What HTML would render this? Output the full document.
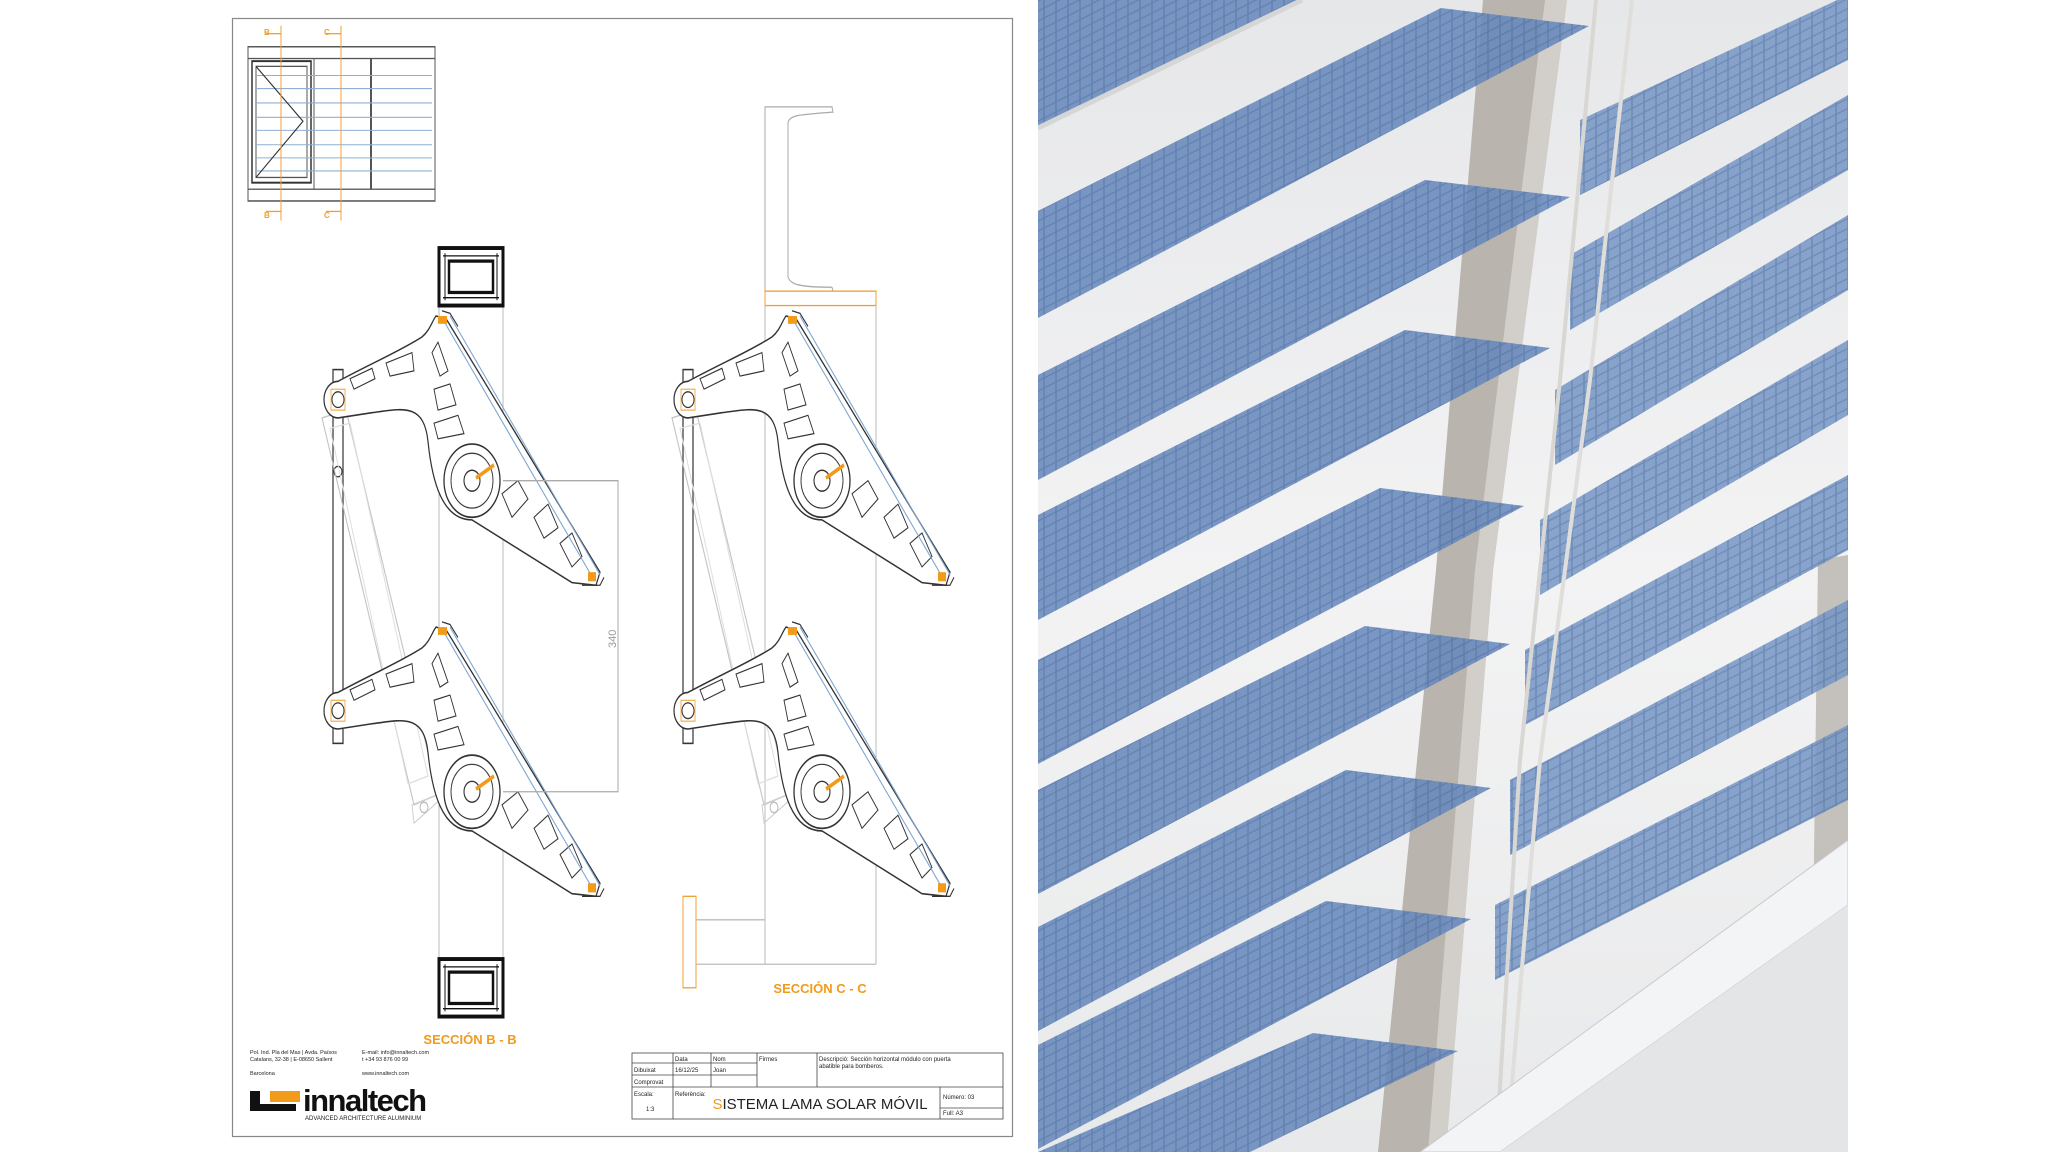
<!DOCTYPE html>
<html><head><meta charset="utf-8"><style>
html,body{margin:0;padding:0;background:#fff;}
body{width:2049px;height:1152px;position:relative;overflow:hidden;font-family:"Liberation Sans",sans-serif;}
svg{position:absolute;left:0;top:0;}
</style></head><body>
<svg width="2049" height="1152" viewBox="0 0 2049 1152">
<defs>
<g id="br">
 <path d="M -148,-62 A 14 14 0 0 1 -134,-76 C -100,-90 -70,-100 -50,-110 C -42,-115 -40,-122 -36,-126 L -26,-124 L 128,70 L 124,80 L 100,78 L 0,30 C -30,30 -40,0 -44,-30 C -48,-60 -70,-55 -100,-52 L -134,-48 A 14 14 0 0 1 -148,-62 Z" fill="#fff" stroke="#333" stroke-width="1.2"/>
 <circle cx="-134" cy="-62" r="6" fill="none" stroke="#333"/>
 <rect x="-141" y="-70" width="14" height="16" fill="none" stroke="#f0a030" stroke-width="0.8"/>
 <path d="M-122,-78 L-100,-86 L-97,-78 L-118,-70Z M-86,-90 L-60,-98 L-58,-84 L-82,-80Z M-40,-98 L-34,-106 L-24,-84 L-32,-80Z M-38,-70 L-22,-74 L-16,-58 L-34,-54Z M-38,-44 L-14,-50 L-8,-36 L-34,-32Z M30,10 L46,0 L56,14 L40,28Z M62,28 L76,18 L86,36 L72,44Z M88,48 L100,40 L110,58 L100,66Z" fill="none" stroke="#333" stroke-width="0.9"/>
 <circle cx="0" cy="0" r="28" fill="#fff" stroke="#333" stroke-width="1.3"/>
 <circle cx="0" cy="0" r="21" fill="none" stroke="#333" stroke-width="0.9"/>
 <circle cx="0" cy="0" r="8" fill="#fff" stroke="#333" stroke-width="1.1"/>
 <line x1="4" y1="-2" x2="22" y2="-12" stroke="#f29a1a" stroke-width="3"/>
 <line x1="-28" y1="-122" x2="122" y2="76" stroke="#7ea6cf" stroke-width="1"/>
 <line x1="-22" y1="-126" x2="128" y2="72" stroke="#7ea6cf" stroke-width="1"/>
 <rect x="-34" y="-126" width="9" height="6" fill="#f29a1a"/>
 <rect x="116" y="70" width="8" height="7" fill="#f29a1a"/>
 <path d="M-30,-130 L-22,-128 L-14,-118" fill="none" stroke="#333"/>
 <path d="M110,80 L128,80 L132,74" fill="none" stroke="#333"/>
</g>
<g id="act">
 <polygon points="-150,-48 -126,-54 -34,240 -58,248" fill="none" stroke="#c4c4c4" stroke-width="1.1"/>
 <polygon points="-142,-40 -122,-44 -44,226 -64,232" fill="none" stroke="#dedede" stroke-width="1"/>
 <polygon points="-60,248 -20,236 -58,262" fill="none" stroke="#d0d0d0"/>
 <circle cx="-48" cy="250" r="4" fill="none" stroke="#bbb"/>
</g>
<g id="sq">
 <rect x="0" y="0" width="64" height="44" fill="#fff" stroke="#111" stroke-width="3"/>
 <rect x="10" y="10" width="44" height="24" fill="none" stroke="#111" stroke-width="2.5"/>
 <path d="M4,6 H60 M4,38 H60 M6,4 V40 M58,4 V40" stroke="#111" stroke-width="1"/>
</g>
<linearGradient id="bg" x1="0" y1="0" x2="0" y2="1"><stop offset="0" stop-color="#e6e7e9"/><stop offset="0.5" stop-color="#f3f3f4"/><stop offset="1" stop-color="#e8e9ea"/></linearGradient>
<pattern id="grid" width="12" height="10" patternUnits="userSpaceOnUse" patternTransform="skewY(-27)">
 <rect width="12" height="10" fill="none" stroke="#35558a" stroke-opacity="0.3" stroke-width="1.5"/>
</pattern>
<g id="rpg">
<polygon points="1580,120 1848,-5 1848,60 1580,195"/>
<polygon points="1570,255 1848,95 1848,170 1570,330"/>
<polygon points="1555,390 1848,215 1848,290 1555,465"/>
<polygon points="1540,520 1848,340 1848,415 1540,595"/>
<polygon points="1525,650 1848,475 1848,550 1525,725"/>
<polygon points="1510,780 1848,600 1848,675 1510,855"/>
<polygon points="1495,905 1848,725 1848,800 1495,980"/>
</g>
<g id="lpg">
<polygon points="1038,0 1300,0 1038,126"/>
<polygon points="1441,8 1589,26 1038,318 1038,211"/>
<polygon points="1425,180 1570,197 1038,480 1038,375"/>
<polygon points="1405,330 1550,348 1038,620 1038,515"/>
<polygon points="1380,488 1524,506 1038,764 1038,660"/>
<polygon points="1365,626 1510,644 1038,894 1038,790"/>
<polygon points="1346,770 1491,788 1038,1031 1038,927"/>
<polygon points="1326,901 1471,919 1038,1149 1038,1045"/>
<polygon points="1313,1033 1458,1051 1250,1152 1038,1152"/>
</g>
</defs>

<!-- sheet -->
<rect x="232.5" y="18.5" width="780" height="1118" fill="#fff" stroke="#888" stroke-width="1.2"/>

<g transform="translate(0,18) scale(1,1.307) translate(0,-18)">
<rect x="248" y="40" width="187" height="118" fill="#fff" stroke="#555" stroke-width="1"/>
<rect x="248" y="40" width="187" height="9" fill="none" stroke="#555"/>
<rect x="248" y="149" width="187" height="9" fill="none" stroke="#555"/>
<rect x="252" y="51" width="59" height="93" fill="none" stroke="#333" stroke-width="1.5"/>
<rect x="256" y="55" width="51" height="85" fill="none" stroke="#555"/>
<line x1="314" y1="49" x2="314" y2="149" stroke="#555"/>
<line x1="371" y1="49" x2="371" y2="149" stroke="#555" stroke-width="2"/>
<g stroke="#8fb0d4" stroke-width="0.8">
<line x1="256" y1="62" x2="432" y2="62"/><line x1="256" y1="72" x2="432" y2="72"/><line x1="256" y1="83" x2="432" y2="83"/><line x1="256" y1="94" x2="432" y2="94"/><line x1="256" y1="104" x2="432" y2="104"/><line x1="256" y1="115" x2="432" y2="115"/><line x1="256" y1="125" x2="432" y2="125"/><line x1="256" y1="135" x2="432" y2="135"/>
</g>
<polyline points="256,55 303,97 256,140" fill="none" stroke="#333"/>
<g stroke="#f0a030" stroke-width="1"><line x1="281" y1="24" x2="281" y2="173"/><line x1="341" y1="24" x2="341" y2="173"/>
<line x1="266" y1="30" x2="281" y2="30"/><line x1="326" y1="30" x2="341" y2="30"/><line x1="266" y1="166" x2="281" y2="166"/><line x1="326" y1="166" x2="341" y2="166"/></g>

<line x1="439" y1="238" x2="439" y2="738" stroke="#bbb"/>
<line x1="503" y1="238" x2="503" y2="738" stroke="#bbb"/>
<use href="#sq" x="439" y="194"/>
<use href="#sq" x="439" y="738"/>
<rect x="333" y="287" width="10" height="286" fill="none" stroke="#333" stroke-width="1.2"/>
<circle cx="338" cy="365" r="4" fill="none" stroke="#333"/>
<use href="#act" x="472" y="372"/>
<use href="#br" x="472" y="372"/>
<use href="#br" x="472" y="610"/>
<path d="M503,372 H618 V610 H503" fill="none" stroke="#aaa"/>

<path d="M765,238 V86 H832 L833,90 C800,92 790,92 788,98 V216 C790,222 800,224 832,224 L833,227" fill="none" stroke="#aaa"/>
<rect x="765" y="227" width="111" height="11" fill="none" stroke="#f0a030"/>
<line x1="765" y1="238" x2="765" y2="742" stroke="#bbb"/>
<line x1="876" y1="238" x2="876" y2="742" stroke="#bbb"/>
<line x1="765" y1="742" x2="876" y2="742" stroke="#bbb"/>
<rect x="683" y="690" width="13" height="70" fill="none" stroke="#f0a030"/>
<line x1="696" y1="708" x2="765" y2="708" stroke="#bbb"/>
<line x1="696" y1="742" x2="765" y2="742" stroke="#bbb"/>
<rect x="683" y="287" width="10" height="286" fill="none" stroke="#333" stroke-width="1.2"/>
<use href="#act" x="822" y="372"/>
<use href="#br" x="822" y="372"/>
<use href="#br" x="822" y="610"/>
</g>

<g fill="#f0a030" font-size="8" font-weight="bold"><text x="264" y="35">B</text><text x="324" y="35">C</text><text x="264" y="218">B</text><text x="324" y="218">C</text></g>
<text x="0" y="0" font-size="11" fill="#999" transform="translate(616,648) rotate(-90)">340</text>
<text x="470" y="1044" font-size="13" font-weight="bold" fill="#f29a1a" text-anchor="middle">SECCIÓN B - B</text>
<text x="820" y="993" font-size="13" font-weight="bold" fill="#f29a1a" text-anchor="middle">SECCIÓN C - C</text>

<g font-size="5.5" fill="#222">
<text x="250" y="1054">Pol. Ind. Pla del Mas | Avda. Països</text>
<text x="250" y="1061">Catalans, 32-38 | E-08650 Sallent</text>
<text x="250" y="1075">Barcelona</text>
<text x="362" y="1054">E-mail: info@innaltech.com</text>
<text x="362" y="1061">t +34 93 876 00 99</text>
<text x="362" y="1075">www.innaltech.com</text>
</g>
<rect x="250" y="1091" width="10" height="20" fill="#111"/>
<rect x="250" y="1104" width="46" height="7" fill="#111"/>
<rect x="270" y="1091" width="30" height="11" fill="#f29a1a"/>
<text x="303" y="1111" font-size="31" font-weight="bold" fill="#111" letter-spacing="-1.5">innaltech</text>
<text x="305" y="1120" font-size="6" fill="#222">ADVANCED ARCHITECTURE ALUMINIUM</text>

<g stroke="#444" stroke-width="0.8" fill="none">
<rect x="632" y="1053" width="371" height="66"/>
<line x1="673" y1="1053" x2="673" y2="1119"/>
<line x1="711" y1="1053" x2="711" y2="1087"/>
<line x1="757" y1="1053" x2="757" y2="1087"/>
<line x1="817" y1="1053" x2="817" y2="1087"/>
<line x1="632" y1="1063" x2="757" y2="1063"/>
<line x1="632" y1="1075" x2="757" y2="1075"/>
<line x1="632" y1="1087" x2="1003" y2="1087"/>
<line x1="940" y1="1087" x2="940" y2="1119"/>
<line x1="940" y1="1108" x2="1003" y2="1108"/>
</g>
<g font-size="6" fill="#222">
<text x="675" y="1061">Data</text><text x="713" y="1061">Nom</text><text x="759" y="1061">Firmes</text>
<text x="819" y="1061">Descripció: Sección horizontal módulo con puerta</text>
<text x="819" y="1068">abatible para bomberos.</text>
<text x="634" y="1072">Dibuixat</text><text x="675" y="1072">16/12/25</text><text x="713" y="1072">Joan</text>
<text x="634" y="1084">Comprovat</text>
<text x="634" y="1096">Escala:</text><text x="646" y="1111">1:3</text>
<text x="675" y="1096">Referència:</text>
<text x="943" y="1099">Número: 03</text>
<text x="943" y="1115">Full: A3</text>
</g>
<text x="820" y="1109" font-size="15" fill="#222" text-anchor="middle"><tspan fill="#f29a1a">S</tspan>ISTEMA LAMA SOLAR MÓVIL</text>

<!-- render image -->
<svg x="1038" y="0" width="810" height="1152" viewBox="1038 0 810 1152">
<rect x="1038" y="0" width="810" height="1152" fill="url(#bg)"/>
<polygon points="1818,560 1848,555 1848,1152 1810,1152" fill="#c4c0bb"/>
<g fill="#7695c4" fill-opacity="0.85"><use href="#rpg"/></g>
<g fill="url(#grid)"><use href="#rpg"/></g>
<polygon points="1483,0 1567,0 1493,570 1446,1152 1378,1152 1436,570" fill="#b9b4ae"/>
<polygon points="1545,0 1567,0 1493,570 1446,1152 1428,1152 1475,570" fill="#d2cec9"/>
<g fill="#6486bb" fill-opacity="0.85"><use href="#lpg"/></g>
<g fill="url(#grid)"><use href="#lpg"/></g>
<line x1="1038" y1="128" x2="1302" y2="0" stroke="#d6d6d6" stroke-width="5"/>
<polyline points="1596,0 1560,380 1520,760 1496,1152" fill="none" stroke="#d9d7d3" stroke-width="4"/>
<polyline points="1632,0 1590,380 1540,760 1506,1152" fill="none" stroke="#e0deda" stroke-width="4"/>
<polygon points="1420,1152 1848,840 1848,905 1500,1152" fill="#f3f4f6" stroke="#c6cad0"/>
<polygon points="1500,1152 1848,905 1848,1152" fill="#e4e5e7"/>
</svg>
</svg>
</body></html>
